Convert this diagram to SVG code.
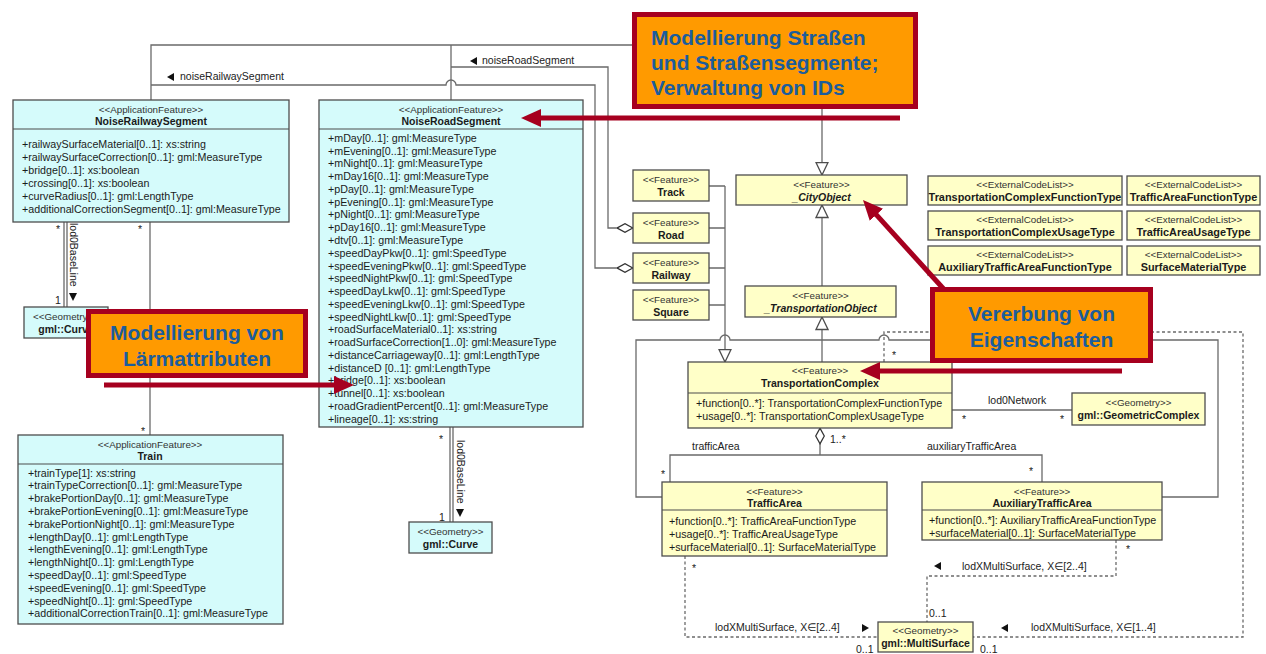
<svg xmlns="http://www.w3.org/2000/svg" width="1266" height="654" viewBox="0 0 1266 654">
<style>
  text{font-family:"Liberation Sans",Arial,"DejaVu Sans",sans-serif;fill:#1b1b1b}
  .box{stroke:#4d4d4d;stroke-width:1.3}
  .app{fill:#d5fbfb}
  .fea{fill:#ffffc8}
  .sep{stroke:#4d4d4d;stroke-width:1.1}
  .st{font-size:9.8px;text-anchor:middle;fill:#333}
  .nm{font-size:10.5px;font-weight:bold;text-anchor:middle}
  .cl{font-size:10.9px}
  .it{font-style:italic}
  .at{font-size:10.7px}
  .lb{font-size:10.5px;fill:#222}
  .ln{fill:none;stroke:#6a6a6a;stroke-width:1.3}
  .dl{stroke-dasharray:3,2.5}
  .nav{fill:#111}
  .co{fill:#ff9a00;stroke:#a6001f;stroke-width:5}
  .ct{font-size:21px;font-weight:bold;fill:#1c5d9c}
  .ra{fill:none;stroke:#a6001f;stroke-width:5}
</style>
<defs>
  <marker id="gen" viewBox="0 0 14 14" refX="13.5" refY="7" markerWidth="14" markerHeight="14" markerUnits="userSpaceOnUse" orient="auto">
    <path d="M1,1 L13.5,7 L1,13 z" fill="#fff" stroke="#4d4d4d" stroke-width="1.3"/>
  </marker>
  <marker id="agg" viewBox="0 0 17 10" refX="16.5" refY="5" markerWidth="17" markerHeight="10" markerUnits="userSpaceOnUse" orient="auto">
    <path d="M0.7,5 L8.5,0.7 L16.3,5 L8.5,9.3 z" fill="#fff" stroke="#333" stroke-width="1.3"/>
  </marker>
  <marker id="red" viewBox="0 0 20 18" refX="3" refY="9" markerWidth="20" markerHeight="18" markerUnits="userSpaceOnUse" orient="auto">
    <path d="M0,0 L20,9 L0,18 z" fill="#a6001f"/>
  </marker>
</defs>

<rect width="1266" height="654" fill="#fff"/>

<!-- connectors -->
<g id="connectors">
  <path class="ln" d="M151,100 V45 H822 V175" marker-end="url(#gen)"/>
  <path class="ln" d="M451,100 V45"/>
  <path class="ln" d="M451,67 H608 V228 H633" marker-end="url(#agg)"/>
  <path class="ln" d="M151,85 H446 A5,5 0 0 1 456,85 H595 V268 H633" marker-end="url(#agg)"/>
  <path class="ln" d="M709,186 H725 M709,228 H725 M709,268 H725 M709,305 H725"/>
  <path class="ln" d="M725,186 V362" marker-end="url(#gen)"/>
  <path class="ln" d="M822,286 V205" marker-end="url(#gen)"/>
  <path class="ln" d="M822,362 V317" marker-end="url(#gen)"/>
  <path class="ln" d="M662,497 H636 V340 H720 A5,5 0 0 1 730,340 H879 A5,5 0 0 1 889,340 H1218 V497 H1162"/>
  <path class="ln" d="M820,455 V428" marker-end="url(#agg)"/>
  <path class="ln" d="M670,482 V455 H1042 V482"/>
  <path class="ln" d="M952,410 H1072"/>
  <path class="ln dl" d="M884,362 V332 H1243 V637 H973"/>
  <path class="ln dl" d="M685,556 V637 H878"/>
  <path class="ln dl" d="M1116,540 V576 H927 V622"/>
  <path class="ln" d="M64,222 V307 M67,222 V307"/>
  <path class="ln" d="M150,222 V435"/>
  <path class="ln" d="M450,427 V522 M453,427 V522"/>

  <!-- navigation triangles -->
  <polygon class="nav" points="470,61 477,57 477,65"/>
  <polygon class="nav" points="167,77 174,73 174,81"/>
  <polygon class="nav" points="69,293 77,293 73,301"/>
  <polygon class="nav" points="456,509 464,509 460,517"/>
  <polygon class="nav" points="934,566 941,562 941,570"/>
  <polygon class="nav" points="869,628 862,624 862,632"/>
  <polygon class="nav" points="1001,628 1008,624 1008,632"/>

  <!-- role names and multiplicities -->
  <text class="lb" x="482" y="64">noiseRoadSegment</text>
  <text class="lb" x="180" y="80">noiseRailwaySegment</text>
  <text class="lb" transform="translate(70,223) rotate(90)">lod0BaseLine</text>
  <text class="lb" transform="translate(457,440) rotate(90)">lod0BaseLine</text>
  <text class="lb" x="56" y="232.5">*</text>
  <text class="lb" x="138" y="232.5">*</text>
  <text class="lb" x="141" y="434.5">*</text>
  <text class="lb" x="439" y="442.5">*</text>
  <text class="lb" x="55" y="303.5">1</text>
  <text class="lb" x="439" y="521">1</text>
  <text class="lb" x="962" y="422.5">*</text>
  <text class="lb" x="1060" y="422.5">*</text>
  <text class="lb" x="988" y="404">lod0Network</text>
  <text class="lb" x="830" y="443">1..*</text>
  <text class="lb" x="692" y="450">trafficArea</text>
  <text class="lb" x="927" y="450">auxiliaryTrafficArea</text>
  <text class="lb" x="661" y="477.5">*</text>
  <text class="lb" x="1029" y="474.5">*</text>
  <text class="lb" x="692" y="572">*</text>
  <text class="lb" x="1126" y="553">*</text>
  <text class="lb" x="892" y="358.5">*</text>
  <text class="lb" x="962" y="570">lodXMultiSurface, X∈[2..4]</text>
  <text class="lb" x="929" y="617">0..1</text>
  <text class="lb" x="715" y="631">lodXMultiSurface, X∈[2..4]</text>
  <text class="lb" x="1031" y="631">lodXMultiSurface, X∈[1..4]</text>
  <text class="lb" x="856" y="653">0..1</text>
  <text class="lb" x="980" y="653">0..1</text>
</g>

<!-- application schema classes -->
<g id="NoiseRailwaySegment">
  <rect class="box app" x="13" y="100" width="276" height="122"/>
  <line class="sep" x1="13" y1="129" x2="289" y2="129"/>
  <text class="st" x="151" y="113">&lt;&lt;ApplicationFeature&gt;&gt;</text>
  <text class="nm" x="151" y="125">NoiseRailwaySegment</text>
  <text class="at">
    <tspan x="22" y="148">+railwaySurfaceMaterial[0..1]: xs:string</tspan>
    <tspan x="22" dy="12.9">+railwaySurfaceCorrection[0..1]: gml:MeasureType</tspan>
    <tspan x="22" dy="12.9">+bridge[0..1]: xs:boolean</tspan>
    <tspan x="22" dy="12.9">+crossing[0..1]: xs:boolean</tspan>
    <tspan x="22" dy="12.9">+curveRadius[0..1]: gml:LengthType</tspan>
    <tspan x="22" dy="12.9">+additionalCorrectionSegment[0..1]: gml:MeasureType</tspan>
  </text>
</g>

<g id="NoiseRoadSegment">
  <rect class="box app" x="319" y="100" width="264" height="327"/>
  <line class="sep" x1="319" y1="129" x2="583" y2="129"/>
  <text class="st" x="451" y="113">&lt;&lt;ApplicationFeature&gt;&gt;</text>
  <text class="nm" x="451" y="125">NoiseRoadSegment</text>
  <text class="at">
    <tspan x="328" y="141.8">+mDay[0..1]: gml:MeasureType</tspan>
    <tspan x="328" dy="12.77">+mEvening[0..1]: gml:MeasureType</tspan>
    <tspan x="328" dy="12.77">+mNight[0..1]: gml:MeasureType</tspan>
    <tspan x="328" dy="12.77">+mDay16[0..1]: gml:MeasureType</tspan>
    <tspan x="328" dy="12.77">+pDay[0..1]: gml:MeasureType</tspan>
    <tspan x="328" dy="12.77">+pEvening[0..1]: gml:MeasureType</tspan>
    <tspan x="328" dy="12.77">+pNight[0..1]: gml:MeasureType</tspan>
    <tspan x="328" dy="12.77">+pDay16[0..1]: gml:MeasureType</tspan>
    <tspan x="328" dy="12.77">+dtv[0..1]: gml:MeasureType</tspan>
    <tspan x="328" dy="12.77">+speedDayPkw[0..1]: gml:SpeedType</tspan>
    <tspan x="328" dy="12.77">+speedEveningPkw[0..1]: gml:SpeedType</tspan>
    <tspan x="328" dy="12.77">+speedNightPkw[0..1]: gml:SpeedType</tspan>
    <tspan x="328" dy="12.77">+speedDayLkw[0..1]: gml:SpeedType</tspan>
    <tspan x="328" dy="12.77">+speedEveningLkw[0..1]: gml:SpeedType</tspan>
    <tspan x="328" dy="12.77">+speedNightLkw[0..1]: gml:SpeedType</tspan>
    <tspan x="328" dy="12.77">+roadSurfaceMaterial0..1]: xs:string</tspan>
    <tspan x="328" dy="12.77">+roadSurfaceCorrection[1..0]: gml:MeasureType</tspan>
    <tspan x="328" dy="12.77">+distanceCarriageway[0..1]: gml:LengthType</tspan>
    <tspan x="328" dy="12.77">+distanceD [0..1]: gml:LengthType</tspan>
    <tspan x="328" dy="12.77">+bridge[0..1]: xs:boolean</tspan>
    <tspan x="328" dy="12.77">+tunnel[0..1]: xs:boolean</tspan>
    <tspan x="328" dy="12.77">+roadGradientPercent[0..1]: gml:MeasureType</tspan>
    <tspan x="328" dy="12.77">+lineage[0..1]: xs:string</tspan>
  </text>
</g>

<g id="Train">
  <rect class="box app" x="18" y="435" width="265" height="189"/>
  <line class="sep" x1="18" y1="464" x2="283" y2="464"/>
  <text class="st" x="150" y="448">&lt;&lt;ApplicationFeature&gt;&gt;</text>
  <text class="nm" x="150" y="460">Train</text>
  <text class="at">
    <tspan x="28" y="476.5">+trainType[1]: xs:string</tspan>
    <tspan x="28" dy="12.8">+trainTypeCorrection[0..1]: gml:MeasureType</tspan>
    <tspan x="28" dy="12.8">+brakePortionDay[0..1]: gml:MeasureType</tspan>
    <tspan x="28" dy="12.8">+brakePortionEvening[0..1]: gml:MeasureType</tspan>
    <tspan x="28" dy="12.8">+brakePortionNight[0..1]: gml:MeasureType</tspan>
    <tspan x="28" dy="12.8">+lengthDay[0..1]: gml:LengthType</tspan>
    <tspan x="28" dy="12.8">+lengthEvening[0..1]: gml:LengthType</tspan>
    <tspan x="28" dy="12.8">+lengthNight[0..1]: gml:LengthType</tspan>
    <tspan x="28" dy="12.8">+speedDay[0..1]: gml:SpeedType</tspan>
    <tspan x="28" dy="12.8">+speedEvening[0..1]: gml:SpeedType</tspan>
    <tspan x="28" dy="12.8">+speedNight[0..1]: gml:SpeedType</tspan>
    <tspan x="28" dy="12.8">+additionalCorrectionTrain[0..1]: gml:MeasureType</tspan>
  </text>
</g>

<g id="CurveRailway">
  <rect class="box app" x="24" y="307" width="84" height="31"/>
  <text class="st" x="66" y="320">&lt;&lt;Geometry&gt;&gt;</text>
  <text class="nm" x="66" y="333">gml::Curve</text>
</g>

<g id="CurveRoad">
  <rect class="box app" x="409" y="522" width="83" height="31"/>
  <text class="st" x="450.5" y="535">&lt;&lt;Geometry&gt;&gt;</text>
  <text class="nm" x="450.5" y="548">gml::Curve</text>
</g>

<!-- CityGML transportation model -->
<g id="Track">
  <rect class="box fea" x="633" y="170" width="76" height="31"/>
  <text class="st" x="671" y="183">&lt;&lt;Feature&gt;&gt;</text>
  <text class="nm" x="671" y="196">Track</text>
</g>
<g id="Road">
  <rect class="box fea" x="633" y="213" width="76" height="30"/>
  <text class="st" x="671" y="225.5">&lt;&lt;Feature&gt;&gt;</text>
  <text class="nm" x="671" y="238.5">Road</text>
</g>
<g id="Railway">
  <rect class="box fea" x="633" y="253" width="76" height="30"/>
  <text class="st" x="671" y="265.5">&lt;&lt;Feature&gt;&gt;</text>
  <text class="nm" x="671" y="278.5">Railway</text>
</g>
<g id="Square">
  <rect class="box fea" x="633" y="290" width="76" height="30"/>
  <text class="st" x="671" y="302.5">&lt;&lt;Feature&gt;&gt;</text>
  <text class="nm" x="671" y="315.5">Square</text>
</g>

<g id="CityObject">
  <rect class="box fea" x="736" y="175" width="171" height="30"/>
  <text class="st" x="821.5" y="187.5">&lt;&lt;Feature&gt;&gt;</text>
  <text class="nm it" x="821.5" y="200.5">_CityObject</text>
</g>

<g id="TransportationObject">
  <rect class="box fea" x="745" y="286" width="151" height="31"/>
  <text class="st" x="820.5" y="299">&lt;&lt;Feature&gt;&gt;</text>
  <text class="nm it" x="820.5" y="312">_TransportationObject</text>
</g>

<g id="CodeLists">
  <g id="TransportationComplexFunctionType">
    <rect class="box fea" x="928" y="176" width="194" height="29"/>
    <text class="st" x="1025" y="188">&lt;&lt;ExternalCodeList&gt;&gt;</text>
    <text class="nm cl" x="1025" y="201">TransportationComplexFunctionType</text>
  </g>
  <g id="TrafficAreaFunctionType">
    <rect class="box fea" x="1127" y="176" width="133" height="29"/>
    <text class="st" x="1193.5" y="188">&lt;&lt;ExternalCodeList&gt;&gt;</text>
    <text class="nm cl" x="1193.5" y="201">TrafficAreaFunctionType</text>
  </g>
  <g id="TransportationComplexUsageType">
    <rect class="box fea" x="928" y="211" width="194" height="29"/>
    <text class="st" x="1025" y="223">&lt;&lt;ExternalCodeList&gt;&gt;</text>
    <text class="nm cl" x="1025" y="236">TransportationComplexUsageType</text>
  </g>
  <g id="TrafficAreaUsageType">
    <rect class="box fea" x="1127" y="211" width="133" height="29"/>
    <text class="st" x="1193.5" y="223">&lt;&lt;ExternalCodeList&gt;&gt;</text>
    <text class="nm cl" x="1193.5" y="236">TrafficAreaUsageType</text>
  </g>
  <g id="AuxiliaryTrafficAreaFunctionType">
    <rect class="box fea" x="928" y="246" width="194" height="29"/>
    <text class="st" x="1025" y="258">&lt;&lt;ExternalCodeList&gt;&gt;</text>
    <text class="nm cl" x="1025" y="271">AuxiliaryTrafficAreaFunctionType</text>
  </g>
  <g id="SurfaceMaterialType">
    <rect class="box fea" x="1127" y="246" width="133" height="29"/>
    <text class="st" x="1193.5" y="258">&lt;&lt;ExternalCodeList&gt;&gt;</text>
    <text class="nm cl" x="1193.5" y="271">SurfaceMaterialType</text>
  </g>
</g>

<g id="TransportationComplex">
  <rect class="box fea" x="688" y="362" width="264" height="66"/>
  <line class="sep" x1="688" y1="393" x2="952" y2="393"/>
  <text class="st" x="820" y="374">&lt;&lt;Feature&gt;&gt;</text>
  <text class="nm" x="820" y="387">TransportationComplex</text>
  <text class="at">
    <tspan x="696" y="407">+function[0..*]: TransportationComplexFunctionType</tspan>
    <tspan x="696" dy="12.5">+usage[0..*]: TransportationComplexUsageType</tspan>
  </text>
</g>

<g id="GeometricComplex">
  <rect class="box fea" x="1072" y="393" width="133" height="32"/>
  <text class="st" x="1138.5" y="406">&lt;&lt;Geometry&gt;&gt;</text>
  <text class="nm" x="1138.5" y="419">gml::GeometricComplex</text>
</g>

<g id="TrafficArea">
  <rect class="box fea" x="662" y="482" width="225" height="74"/>
  <line class="sep" x1="662" y1="510" x2="887" y2="510"/>
  <text class="st" x="774.5" y="495">&lt;&lt;Feature&gt;&gt;</text>
  <text class="nm" x="774.5" y="507">TrafficArea</text>
  <text class="at">
    <tspan x="669" y="524.5">+function[0..*]: TrafficAreaFunctionType</tspan>
    <tspan x="669" dy="13">+usage[0..*]: TrafficAreaUsageType</tspan>
    <tspan x="669" dy="13">+surfaceMaterial[0..1]: SurfaceMaterialType</tspan>
  </text>
</g>

<g id="AuxiliaryTrafficArea">
  <rect class="box fea" x="922" y="482" width="240" height="58"/>
  <line class="sep" x1="922" y1="510" x2="1162" y2="510"/>
  <text class="st" x="1042" y="495">&lt;&lt;Feature&gt;&gt;</text>
  <text class="nm" x="1042" y="507">AuxiliaryTrafficArea</text>
  <text class="at">
    <tspan x="929" y="524">+function[0..*]: AuxiliaryTrafficAreaFunctionType</tspan>
    <tspan x="929" dy="13">+surfaceMaterial[0..1]: SurfaceMaterialType</tspan>
  </text>
</g>

<g id="MultiSurface">
  <rect class="box fea" x="878" y="622" width="95" height="30"/>
  <text class="st" x="925.5" y="634">&lt;&lt;Geometry&gt;&gt;</text>
  <text class="nm" x="925.5" y="647">gml::MultiSurface</text>
</g>

<!-- annotation callouts -->
<g id="callouts">
  <path class="ra" d="M900,118 H538" marker-end="url(#red)"/>
  <path class="ra" d="M104,385 H337" marker-end="url(#red)"/>
  <path class="ra" d="M1122,371 H877" marker-end="url(#red)"/>
  <path class="ra" d="M950,296 L874.4,212.6" marker-end="url(#red)"/>

  <g id="noteRoads">
    <rect class="co" x="634.5" y="14.5" width="281" height="92"/>
    <text class="ct" x="651" y="45">Modellierung Straßen</text>
    <text class="ct" x="651" y="70">und Straßensegmente;</text>
    <text class="ct" x="651" y="95">Verwaltung von IDs</text>
  </g>
  <g id="noteNoise">
    <rect class="co" x="88.5" y="311.5" width="217" height="64"/>
    <text class="ct" x="197" y="340" text-anchor="middle">Modellierung von</text>
    <text class="ct" x="197" y="366" text-anchor="middle">Lärmattributen</text>
  </g>
  <g id="noteInheritance">
    <rect class="co" x="932.5" y="289.5" width="218" height="71"/>
    <text class="ct" x="1041.5" y="321" text-anchor="middle">Vererbung von</text>
    <text class="ct" x="1041.5" y="347" text-anchor="middle">Eigenschaften</text>
  </g>
</g>
</svg>
